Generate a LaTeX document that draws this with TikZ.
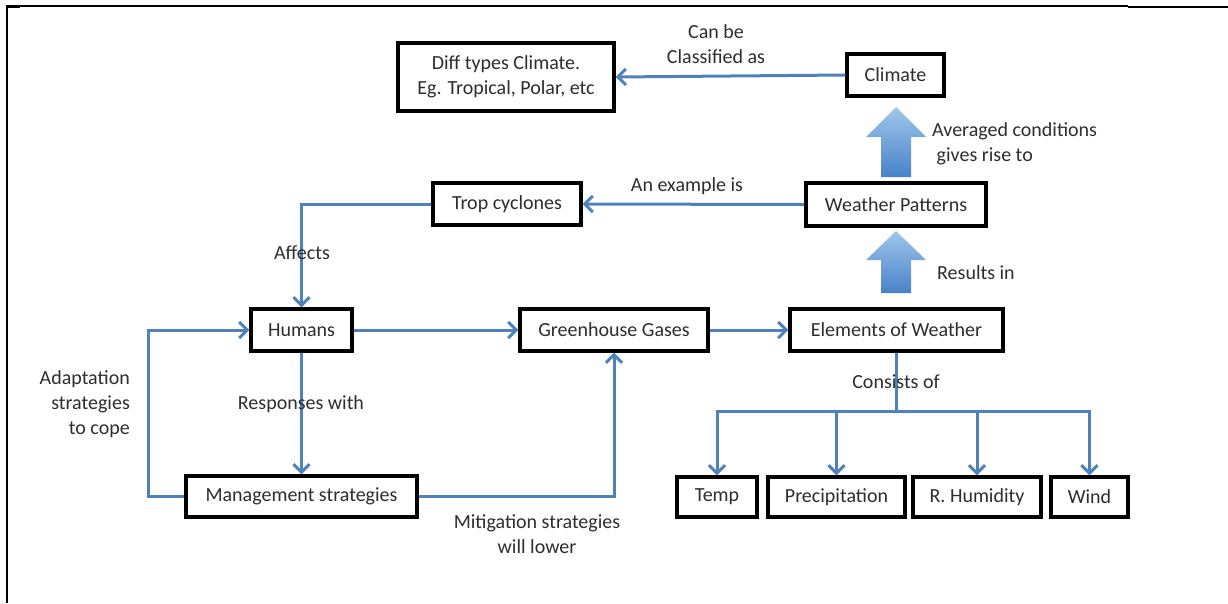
\documentclass[tikz,border=0pt]{standalone}
\usepackage{fontspec}
\setmainfont{Carlito}
\usetikzlibrary{arrows.meta,shadows}
\definecolor{lnblue}{RGB}{79,129,189}
\definecolor{txt}{RGB}{45,45,45}
\definecolor{blocktop}{RGB}{160,198,235}
\definecolor{blockbot}{RGB}{72,130,200}
\tikzset{
  box/.style={draw=black, line width=3.4pt, fill=white, text=txt, inner sep=2pt,
    font=\fontsize{20}{25}\selectfont, align=center,
    drop shadow={opacity=0.25, shadow xshift=1pt, shadow yshift=-1pt}},
  lbl/.style={text=txt, inner sep=0pt, font=\fontsize{20}{25}\selectfont},
  conn/.style={draw=lnblue, line width=3pt, -{Straight Barb[length=8pt,width=16pt,line width=3pt]}},
  plain/.style={draw=lnblue, line width=3pt},
  blockarrow/.style={top color=blocktop, bottom color=blockbot, draw=none}
}
\begin{document}
\begin{tikzpicture}[x=1pt,y=-1pt]
\useasboundingbox (0,0) rectangle (1228,603);
% frame
\draw[line width=1.3pt] (6,6) -- (1128,6);
\draw[line width=2.6pt] (1128,7) -- (1228,7);
\draw[line width=2.2pt] (7,5.5) -- (7,603);
\draw[line width=2pt] (6,6.5) -- (20,6.5);

% boxes
\node[box, minimum width=216, minimum height=68] (diff) at (506,77) {Diff types Climate.\\Eg. Tropical, Polar, etc};
\node[box, minimum width=97, minimum height=42] (climate) at (895.5,75) {Climate};
\node[box, minimum width=180, minimum height=43] (wp) at (896,204.5) {Weather Patterns};
\node[box, minimum width=148, minimum height=42] (trop) at (507,204) {Trop cyclones};
\node[box, minimum width=101, minimum height=42] (humans) at (301.5,330) {Humans};
\node[box, minimum width=188, minimum height=42] (gg) at (614,330) {Greenhouse Gases};
\node[box, minimum width=213, minimum height=42] (elem) at (896.5,330) {Elements of Weather};
\node[box, minimum width=231, minimum height=41] (mgmt) at (301.5,496.5) {Management strategies};
\node[box, minimum width=80, minimum height=40] (temp) at (717,497) {Temp};
\node[box, minimum width=137, minimum height=40] (precip) at (836.5,497) {Precipitation};
\node[box, minimum width=128, minimum height=40] (hum) at (977,497) {R. Humidity};
\node[box, minimum width=77, minimum height=40] (wind) at (1089.5,497) {Wind};

% block arrows
\path[blockarrow] (896,107) -- (926,137) -- (911,137) -- (911,177) -- (881,177) -- (881,137) -- (866,137) -- cycle;
\path[blockarrow] (896,231) -- (926,260) -- (911,260) -- (911,293) -- (881,293) -- (881,260) -- (866,260) -- cycle;

% connectors
\draw[conn] (climate.west) -- (diff.east);
\draw[conn] (wp.west) -- (trop.east);
\draw[conn] (trop.west) -| (humans.north);
\draw[conn] (humans.east) -- (gg.west);
\draw[conn] (gg.east) -- (elem.west);
\draw[conn] (humans.south) -- (mgmt.north);
\draw[conn] (mgmt.west) -- ++(-36,0) |- (humans.west);
\draw[conn] (mgmt.east) -| (gg.south);
\coordinate (br) at (896.5,411);
\draw[plain] (elem.south) -- (br);
\draw[conn] (br) -| (temp.north);
\draw[conn] (br) -| (precip.north);
\draw[conn] (br) -| (hum.north);
\draw[conn] (br) -| (wind.north);

% labels
\node[lbl, align=center] (l1) at (716,44) {Can be\\Classified as};
\node[lbl] (l2) at (687,186) {An example is};
\node[lbl, align=left, anchor=west] (l3) at (932,144) {Averaged conditions\\\ gives rise to};
\node[lbl, anchor=west] (l4) at (937,273) {Results in};
\node[lbl] (l5) at (302,253) {Affects};
\node[lbl] (l6) at (301,404) {Responses with};
\node[lbl, align=right, anchor=east] (l7) at (130,404) {Adaptation\\strategies\\to cope};
\node[lbl, align=center] (l8) at (537,534) {Mitigation strategies\\will lower};
\node[lbl] (l9) at (896,382) {Consists of};
\end{tikzpicture}
\end{document}
